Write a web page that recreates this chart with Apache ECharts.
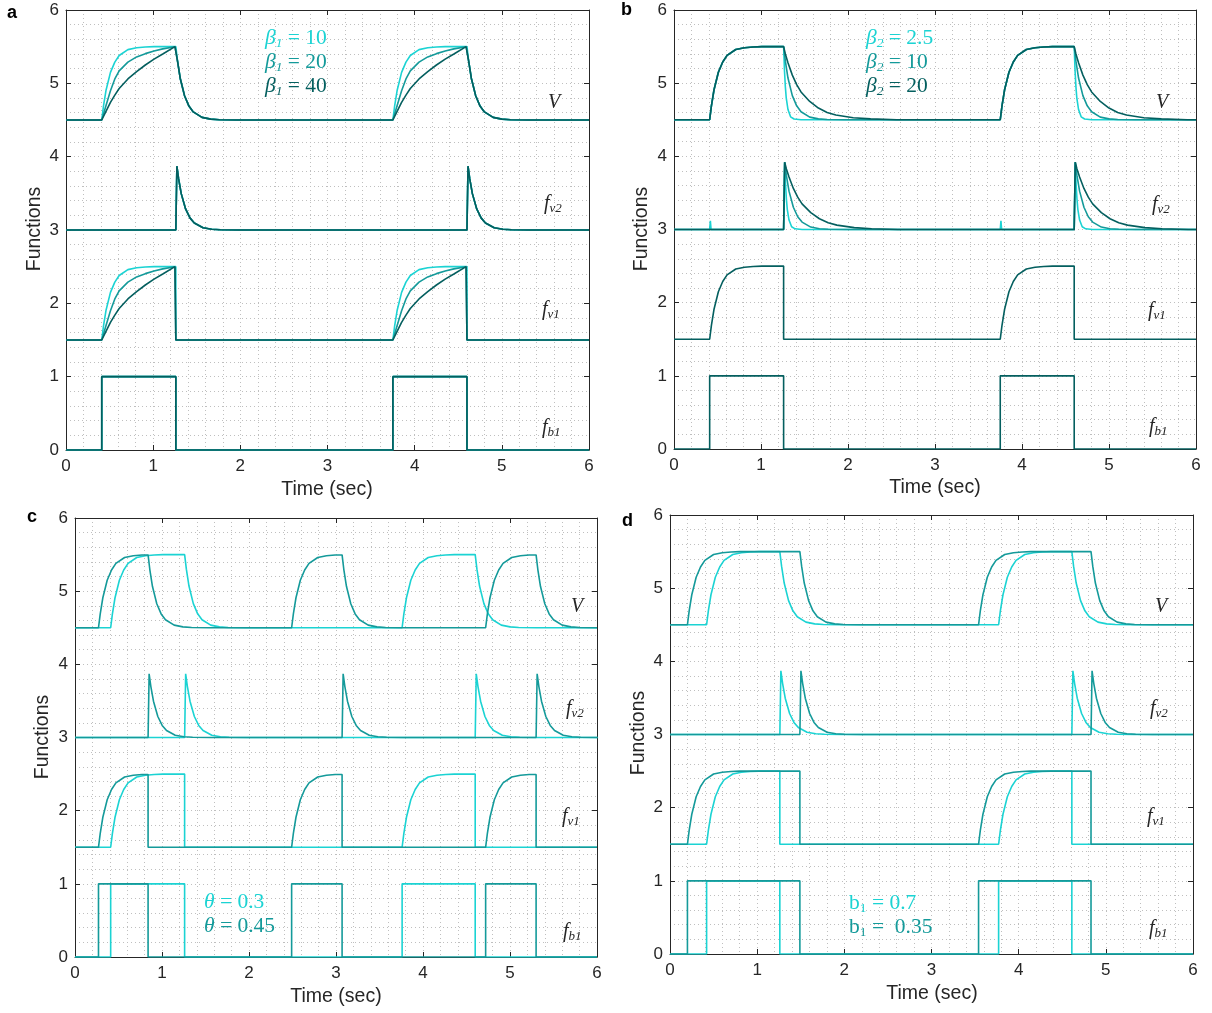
<!DOCTYPE html>
<html><head><meta charset="utf-8">
<script src="https://cdn.jsdelivr.net/npm/echarts@6/dist/echarts.min.js"></script>
<style>html,body{margin:0;padding:0;background:#fff}#c{width:1212px;height:1013px}</style>
</head><body><div id="c"></div>
<script>
// ================= values =================
const xTickValues = [0, 1, 2, 3, 4, 5, 6];
const yTickValues = [0, 1, 2, 3, 4, 5, 6];

// resting level of each trace on the Functions axis
const levelV = 4.5, levelFv2 = 3, levelFv1 = 1.5, levelFb1 = 0;

// pulse windows [on, off] (sec)
const pulsesAB = [[0.41, 1.26], [3.75, 4.60]];
const pulsesTheta03 = [[0.41, 1.26], [3.76, 4.60]];
const pulsesTheta045 = [[0.27, 0.84], [2.49, 3.07], [4.72, 5.30]];
const pulsesB07 = [[0.42, 1.26], [3.77, 4.61]];
const pulsesB035 = [[0.20, 1.49], [3.54, 4.83]];

// rise shapes: [sec after onset, fraction of the 1-unit step]
const riseBeta10 = [[0,0],[0.02,0.19],[0.05,0.41],[0.1,0.65],[0.15,0.79],[0.2,0.88],[0.3,0.96],[0.4,0.985],[0.5,0.995],[0.6,1]];
const riseBeta20 = [[0,0],[0.05,0.2],[0.1,0.4],[0.15,0.56],[0.2,0.67],[0.3,0.79],[0.4,0.86],[0.5,0.905],[0.6,0.94],[0.7,0.97],[0.84,1]];
const riseBeta40 = [[0,0],[0.05,0.12],[0.1,0.24],[0.15,0.34],[0.2,0.43],[0.3,0.56],[0.4,0.66],[0.5,0.75],[0.6,0.83],[0.7,0.9],[0.84,1]];

// decay shapes after pulse end: [sec after end, fraction remaining]
const decayBeta2_10 = [[0,1],[0.02,0.8],[0.05,0.57],[0.1,0.33],[0.15,0.19],[0.2,0.11],[0.3,0.036],[0.4,0.012],[0.5,0.004],[0.7,0]];
const decayBeta2_2p5 = [[0,1],[0.01,0.67],[0.02,0.45],[0.03,0.3],[0.05,0.14],[0.08,0.04],[0.12,0.01],[0.2,0]];
const decayBeta2_20 = [[0,1],[0.02,0.9],[0.05,0.78],[0.1,0.61],[0.15,0.48],[0.2,0.38],[0.3,0.25],[0.4,0.16],[0.5,0.1],[0.6,0.065],[0.8,0.028],[1.0,0.012],[1.3,0]];

// f_v2 spike heights and onset blips
const spikeHeightA = 0.87, spikeHeightB = 0.92, spikeHeightCD = 0.87;
const blipSmall = 0.02, blipBeta2_2p5 = 0.12;

// ================= build series data from the arrays =================
const T_END = xTickValues[xTickValues.length - 1];
function riseRun(pts, base, on, off, rise) {
  let e = 0;
  rise.forEach(([dt, f]) => { if (on + dt < off) { pts.push([on + dt, base + f]); e = f; } });
  pts.push([off, base + e]);
  return e;
}
function buildV(base, pulses, rise, decay) {
  const pts = [[0, base]];
  pulses.forEach(([on, off]) => {
    pts.push([on, base]);
    const e = riseRun(pts, base, on, off, rise);
    decay.forEach(([dt, f]) => { if (dt > 0) pts.push([off + dt, base + e * f]); });
  });
  pts.push([T_END, base]);
  return pts;
}
function buildFv1(base, pulses, rise) {
  const pts = [[0, base]];
  pulses.forEach(([on, off]) => {
    pts.push([on, base]);
    riseRun(pts, base, on, off, rise);
    pts.push([off, base]);
  });
  pts.push([T_END, base]);
  return pts;
}
function buildFv2(base, pulses, decay, peak, blip) {
  const pts = [[0, base]];
  pulses.forEach(([on, off]) => {
    pts.push([on, base], [on + 0.008, base + blip], [on + 0.016, base]);
    pts.push([off, base], [off + 0.012, base + peak]);
    decay.forEach(([dt, f]) => { if (dt > 0) pts.push([off + 0.012 + dt, base + peak * f]); });
  });
  pts.push([T_END, base]);
  return pts;
}
function buildFb1(base, pulses) {
  const pts = [[0, base]];
  pulses.forEach(([on, off]) => { pts.push([on, base], [on, base + 1], [off, base + 1], [off, base]); });
  pts.push([T_END, base]);
  return pts;
}

// ================= styling / layout =================
const cyan = '#1BD3D3', teal = '#149A9A', deep = '#045F5F';
const axisColor = '#262626', dotColor = '#bfbfbf';
const sans = 'Liberation Sans', serif = 'Liberation Serif';
const grids = [
  {left: 66, top: 10, width: 523, height: 440},
  {left: 674, top: 10, width: 522, height: 439},
  {left: 75, top: 518, width: 522, height: 439},
  {left: 670, top: 515, width: 523, height: 439}
];

const xAxes = [], yAxes = [];
grids.forEach((g, i) => {
  const common = {
    type: 'value', min: xTickValues[0], max: T_END, interval: 1, gridIndex: i,
    axisLine: {show: true, onZero: false, lineStyle: {color: axisColor, width: 1}},
    axisTick: {show: true, inside: true, length: 5, lineStyle: {color: axisColor, width: 1}}
  };
  const dotted = {show: true, lineStyle: {type: [1, 3], color: dotColor, width: 1}};
  const label = {show: true, fontFamily: sans, fontSize: 17, color: axisColor, showMinLabel: true, showMaxLabel: true};
  xAxes.push(Object.assign({}, common, {position: 'bottom', axisLabel: Object.assign({margin: 8}, label),
    splitLine: dotted, minorTick: {show: false, splitNumber: 5}, minorSplitLine: dotted}));
  xAxes.push(Object.assign({}, common, {position: 'top', axisLabel: {show: false}, splitLine: {show: false}}));
  const yc = Object.assign({}, common, {min: yTickValues[0], max: yTickValues[yTickValues.length - 1]});
  yAxes.push(Object.assign({}, yc, {position: 'left', axisLabel: Object.assign({margin: 7}, label),
    splitLine: dotted, minorTick: {show: false, splitNumber: 5}, minorSplitLine: dotted}));
  yAxes.push(Object.assign({}, yc, {position: 'right', axisLabel: {show: false}, splitLine: {show: false}}));
});

const series = [];
function line(panel, data, color) {
  series.push({type: 'line', xAxisIndex: 2 * panel, yAxisIndex: 2 * panel, data, showSymbol: false,
    symbol: 'none', silent: true, animation: false, color, lineStyle: {color, width: 1.6}});
}

// panel a : beta1
[[riseBeta10, cyan], [riseBeta20, teal], [riseBeta40, deep]].forEach(([rise, col]) => {
  line(0, buildV(levelV, pulsesAB, rise, decayBeta2_10), col);
  line(0, buildFv1(levelFv1, pulsesAB, rise), col);
  line(0, buildFv2(levelFv2, pulsesAB, decayBeta2_10, spikeHeightA, blipSmall), col);
  line(0, buildFb1(levelFb1, pulsesAB), col);
});
// panel b : beta2
[[decayBeta2_2p5, cyan, blipBeta2_2p5], [decayBeta2_10, teal, blipSmall], [decayBeta2_20, deep, blipSmall]].forEach(([decay, col, blip]) => {
  line(1, buildV(levelV, pulsesAB, riseBeta10, decay), col);
  line(1, buildFv2(levelFv2, pulsesAB, decay, spikeHeightB, blip), col);
});
line(1, buildFv1(levelFv1, pulsesAB, riseBeta10), deep);
line(1, buildFb1(levelFb1, pulsesAB), deep);
// panel c : theta, panel d : b1
[[2, pulsesTheta03, pulsesTheta045], [3, pulsesB07, pulsesB035]].forEach(([p, pc, pt]) => {
  [[pc, cyan], [pt, teal]].forEach(([pulses, col]) => {
    line(p, buildV(levelV, pulses, riseBeta10, decayBeta2_10), col);
    line(p, buildFv2(levelFv2, pulses, decayBeta2_10, spikeHeightCD, blipSmall), col);
    line(p, buildFv1(levelFv1, pulses, riseBeta10), col);
    line(p, buildFb1(levelFb1, pulses), col);
  });
});

// ================= texts =================
function txt(x, y, text, style, rot) {
  return {type: 'text', x, y, rotation: rot || 0, silent: true, z: 100,
    style: Object.assign({text, align: 'left', verticalAlign: 'middle', textAlign: 'left', textVerticalAlign: 'middle'}, style)};
}
const laneRich = {
  f: {fontFamily: serif, fontStyle: 'italic', fontSize: 20, lineHeight: 22, fill: axisColor},
  s: {fontFamily: serif, fontStyle: 'italic', fontSize: 13, lineHeight: 10, verticalAlign: 'bottom', fill: axisColor}
};
function legRich(color, ital) {
  const st = ital ? 'italic' : 'normal';
  return {
    g: {fontFamily: serif, fontStyle: st, fontSize: 21.5, lineHeight: 24, fill: color},
    s: {fontFamily: serif, fontStyle: st, fontSize: 13.5, lineHeight: 11, verticalAlign: 'bottom', fill: color},
    n: {fontFamily: serif, fontSize: 21.5, lineHeight: 24, fill: color}
  };
}
const laneLabels = [
  [[548,103],[544,204],[542,310],[542,428]],
  [[1156,103],[1152,205],[1148,311],[1149,427]],
  [[571,607],[566,709],[562,817],[563,932]],
  [[1155,607],[1150,709],[1147,817],[1149,929]]
];
const laneTexts = ['{f|V}', '{f|f}{s|v2}', '{f|f}{s|v1}', '{f|f}{s|b1}'];
const graphics = [];
laneLabels.forEach(pl => pl.forEach((pos, k) => graphics.push(txt(pos[0], pos[1], laneTexts[k], {rich: laneRich}))));

const panelLetters = [['a', 7, 13.5], ['b', 621, 10.5], ['c', 27, 517], ['d', 622, 521.5]];
panelLetters.forEach(([t, x, y]) => graphics.push(txt(x, y, t, {fontFamily: sans, fontWeight: 'bold', fontSize: 18, fill: '#000'})));

const yTitles = [[35, 229], [642, 229], [43, 737], [639, 733]];
yTitles.forEach(([x, y]) => graphics.push(txt(x, y, 'Functions', {fontFamily: sans, fontSize: 19.5, fill: axisColor, align: 'center', textAlign: 'center'}, Math.PI / 2)));
const xTitles = [[327, 490], [935, 488], [336, 997], [932, 994]];
xTitles.forEach(([x, y]) => graphics.push(txt(x, y, 'Time (sec)', {fontFamily: sans, fontSize: 19.5, fill: axisColor, align: 'center', textAlign: 'center'})));

const legendA = [['{g|β}{s|1}{n| = 10}', cyan], ['{g|β}{s|1}{n| = 20}', teal], ['{g|β}{s|1}{n| = 40}', deep]];
legendA.forEach(([t, c], k) => graphics.push(txt(265, 38 + 24 * k, t, {rich: legRich(c, true)})));
const legendB = [['{g|β}{s|2}{n| = 2.5}', cyan], ['{g|β}{s|2}{n| = 10}', teal], ['{g|β}{s|2}{n| = 20}', deep]];
legendB.forEach(([t, c], k) => graphics.push(txt(866, 38 + 24 * k, t, {rich: legRich(c, true)})));
const legendC = [['{g|θ}{n| = 0.3}', cyan], ['{g|θ}{n| = 0.45}', teal]];
legendC.forEach(([t, c], k) => graphics.push(txt(204, 902 + 24 * k, t, {rich: legRich(c, true)})));
const legendD = [['{g|b}{s|1}{n| = 0.7}', cyan], ['{g|b}{s|1}{n| =  0.35}', teal]];
legendD.forEach(([t, c], k) => graphics.push(txt(849, 903 + 24 * k, t, {rich: legRich(c, false)})));

const chart = echarts.init(document.getElementById('c'));
chart.setOption({
  animation: false,
  backgroundColor: '#ffffff',
  grid: grids.map(g => Object.assign({containLabel: false}, g)),
  xAxis: xAxes,
  yAxis: yAxes,
  series,
  graphic: {elements: graphics}
});
</script>
</body></html>
